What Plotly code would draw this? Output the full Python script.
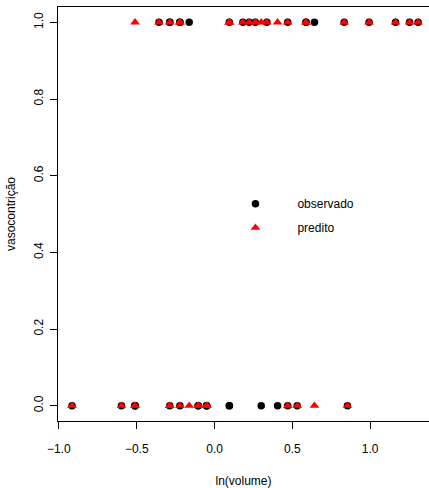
import plotly.graph_objects as go

# Vasoconstriction data: log of inspired volume, observed response, fitted class
ln_volume = [1.308, 1.253, 0.223, -0.288, -0.223, -0.357, -0.511, 0.095, -0.105, -0.105,
             -0.223, -0.598, -0.511, 0.336, -0.288, 0.833, 1.163, -0.163, 0.531, 0.588,
             -0.916, -0.051, 0.300, 0.405, 0.470, -0.511, 0.588, -0.051, 0.642, 0.470,
             0.993, 0.854, 0.095, 0.095, 0.182, -0.223, -0.051, -0.288, 0.262]
observado = [1, 1, 1, 1, 1, 1, 0, 0, 0, 0, 0, 0, 0, 1, 1, 1, 1, 1, 0, 1,
             0, 0, 0, 0, 1, 0, 1, 0, 1, 0, 1, 0, 0, 1, 1, 1, 0, 0, 1]
predito = [1, 1, 1, 0, 1, 1, 0, 1, 0, 0, 0, 0, 1, 1, 1, 1, 1, 0, 0, 1,
           0, 0, 1, 1, 1, 0, 1, 0, 0, 0, 1, 0, 1, 1, 1, 1, 0, 0, 1]

x_ticks = [-1.0, -0.5, 0.0, 0.5, 1.0]
x_ticklabels = ["\u22121.0", "\u22120.5", "0.0", "0.5", "1.0"]
y_ticks = [0.0, 0.2, 0.4, 0.6, 0.8, 1.0]
y_ticklabels = ["0.0", "0.2", "0.4", "0.6", "0.8", "1.0"]

FONT = "Liberation Sans, Arial, Helvetica, sans-serif"

fig = go.Figure()
fig.add_trace(go.Scatter(
    x=ln_volume, y=observado, mode="markers", name="observado",
    marker=dict(symbol="circle", size=7.5, color="black", line=dict(width=0)),
    legendgroup="a",
))
fig.add_trace(go.Scatter(
    x=ln_volume, y=predito, mode="markers", name="predito",
    marker=dict(symbol="triangle-up", size=8.5, color="#FF0000", line=dict(width=0)),
    legendgroup="b",
))

axis_common = dict(
    showgrid=False, zeroline=False, showline=True, linecolor="black", linewidth=1,
    ticks="outside", ticklen=7, tickwidth=1, tickcolor="black",
    tickfont=dict(family=FONT, size=12, color="black"),
)

fig.update_layout(
    width=429, height=488,
    margin=dict(l=58, r=0, t=7, b=67),
    paper_bgcolor="white", plot_bgcolor="white",
    font=dict(family=FONT, size=12, color="black"),
    xaxis=dict(
        range=[-1.006, 1.378], tickvals=x_ticks, ticktext=x_ticklabels,
        mirror=True, ticklabelstandoff=10,
        title=dict(text="ln(volume)", font=dict(family=FONT, size=12), standoff=24),
        **axis_common,
    ),
    yaxis=dict(
        range=[-0.04, 1.04], tickvals=y_ticks, ticktext=y_ticklabels,
        tickangle=-90, ticklabelstandoff=2,
        title=dict(text="vasocontrição", font=dict(family=FONT, size=12), standoff=14),
        **axis_common,
    ),
    legend=dict(
        x=0.419, y=0.560, xanchor="left", yanchor="top",
        bgcolor="rgba(0,0,0,0)", borderwidth=0,
        itemwidth=74, tracegroupgap=5,
        font=dict(family=FONT, size=12, color="black"),
    ),
)

fig.write_html("out.html")
